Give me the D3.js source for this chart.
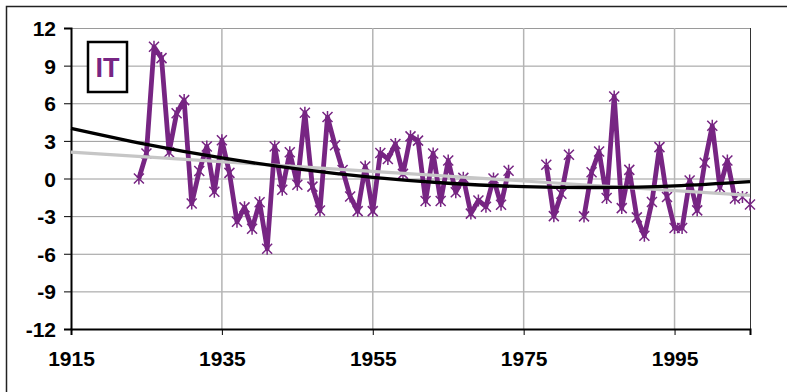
<!DOCTYPE html>
<html>
<head>
<meta charset="utf-8">
<script src="https://cdn.jsdelivr.net/npm/d3@7"></script>
<style>
  body { margin: 0; background: #fff; }
  svg { display: block; font-family: "Liberation Sans", Arial, sans-serif; }
</style>
</head>
<body>
<div id="chart"></div>
<script>
const width = 787, height = 392;
const margin = {top: 28, right: 37, bottom: 63, left: 71};

// series (null = no value)
const years = d3.range(1924, 2006);
const values = [
  0.0, 2.0, 10.5, 9.6, 2.1, 5.2, 6.25, -2.0, 0.6, 2.55,      // 1924-1933
  -1.05, 3.05, 0.45, -3.45, -2.3, -4.0, -1.9, -5.6, 2.55, -0.9, // 1934-1943
  2.1, -0.5, 5.25, -0.65, -2.55, 4.9, 2.65, 0.68, -1.43, -2.6,  // 1944-1953
  0.95, -2.6, 2.04, 1.56, 2.75, 0.37, 3.36, 3.02, -1.8, 2.0,    // 1954-1963
  -1.8, 1.43, -1.09, 0.05, -2.8, -1.75, -2.25, 0.0, -2.1, 0.62, // 1964-1973
  null, null, null, null, 1.1, -3.0, -1.22, 1.9, null, -3.02,   // 1974-1983
  0.5, 2.15, -1.55, 6.54, -2.36, 0.69, -3.1, -4.57, -1.88, 2.5, // 1984-1993
  -1.48, -3.95, -3.95, -0.16, -2.54, 1.25, 4.2, -0.7, 1.43, -1.6, // 1994-2003
  -1.48, -2.07                                                  // 2004-2005
];
// markers shown without a connecting line
const noLineYears = [2004, 2005];

// trend lines
const polyYears = [1915, 1925, 1935, 1945, 1955, 1965, 1975, 1985, 1995, 2005];
const polyValues = [4.0, 2.72, 1.64, 0.77, 0.09, -0.38, -0.65, -0.72, -0.59, -0.25];
const linYears = [1915, 2005];
const linValues = [2.1, -1.35];

const xTicks = [1915, 1935, 1955, 1975, 1995];
const yTicks = [-12, -9, -6, -3, 0, 3, 6, 9, 12];

const purple = "#772583";

const svg = d3.select("#chart").append("svg")
    .attr("width", width)
    .attr("height", height);

// outer frame (runs off the right/bottom edge)
svg.append("rect")
    .attr("x", 6.5).attr("y", 6.5)
    .attr("width", 800).attr("height", 400)
    .attr("fill", "none")
    .attr("stroke", "#222")
    .attr("stroke-width", 1.5);

const x = d3.scaleLinear().domain([1915, 2005]).range([margin.left, width - margin.right]);
const y = d3.scaleLinear().domain([-12, 12]).range([height - margin.bottom, margin.top]);

// gridlines
svg.append("g").selectAll("line")
  .data(yTicks)
  .enter().append("line")
    .attr("x1", margin.left).attr("x2", width - margin.right)
    .attr("y1", d => y(d) + 0.5).attr("y2", d => y(d) + 0.5)
    .attr("stroke", "#9a9a9a").attr("stroke-width", 1);

svg.append("g").selectAll("line")
  .data(xTicks.slice(1))
  .enter().append("line")
    .attr("x1", d => x(d)).attr("x2", d => x(d))
    .attr("y1", margin.top).attr("y2", height - margin.bottom)
    .attr("stroke", "#b4b4b4").attr("stroke-width", 1.5);

// right border of plot
svg.append("line")
    .attr("x1", width - margin.right + 0.5).attr("x2", width - margin.right + 0.5)
    .attr("y1", margin.top).attr("y2", height - margin.bottom)
    .attr("stroke", "#333");

// axes
const yAxis = d3.axisLeft(y).tickValues(yTicks).tickSize(7).tickPadding(8).tickFormat(d => String(d));
const gy = svg.append("g")
    .attr("transform", "translate(" + margin.left + ",0)")
    .call(yAxis);

const xAxis = d3.axisBottom(x).tickValues(xTicks).tickSize(6).tickPadding(16).tickFormat(d => String(d));
const gx = svg.append("g")
    .attr("transform", "translate(0," + (height - margin.bottom) + ")")
    .call(xAxis);

[gx, gy].forEach(g => {
  g.attr("font-size", 21)
   .attr("font-weight", "bold")
   .attr("font-family", "'Liberation Sans', Arial, sans-serif");
  g.select(".domain").attr("stroke", "#000").attr("stroke-width", 2);
  g.selectAll(".tick line").attr("stroke", "#000");
  g.selectAll(".tick text").attr("fill", "#000");
});
gy.selectAll(".tick text").attr("dy", "0.36em");

// data series
const pts = years.map((yr, i) => ({year: yr, value: values[i]}));

const line = d3.line()
    .defined(d => d.value !== null && noLineYears.indexOf(d.year) < 0)
    .x(d => x(d.year))
    .y(d => y(d.value));

svg.append("path")
    .datum(pts)
    .attr("fill", "none")
    .attr("stroke", purple)
    .attr("stroke-width", 4.8)
    .attr("stroke-linejoin", "round")
    .attr("d", line);

// asterisk markers
const m = 5;
svg.append("g").selectAll("path")
  .data(pts.filter(d => d.value !== null))
  .enter().append("path")
    .attr("transform", d => "translate(" + x(d.year) + "," + y(d.value) + ")")
    .attr("d", "M" + (-m) + "," + (-m) + "L" + m + "," + m +
               "M" + m + "," + (-m) + "L" + (-m) + "," + m +
               "M0," + (-m - 1) + "L0," + (m + 1))
    .attr("stroke", purple)
    .attr("stroke-width", 1.5)
    .attr("fill", "none");

// linear trend (grey)
svg.append("path")
    .datum(linYears.map((yr, i) => [yr, linValues[i]]))
    .attr("fill", "none")
    .attr("stroke", "#c6c6c6")
    .attr("stroke-width", 3.2)
    .attr("d", d3.line().x(d => x(d[0])).y(d => y(d[1])));

// polynomial trend (black)
svg.append("path")
    .datum(polyYears.map((yr, i) => [yr, polyValues[i]]))
    .attr("fill", "none")
    .attr("stroke", "#000")
    .attr("stroke-width", 3.4)
    .attr("d", d3.line().curve(d3.curveNatural).x(d => x(d[0])).y(d => y(d[1])));

// country label
svg.append("rect")
    .attr("x", 88).attr("y", 42)
    .attr("width", 39).attr("height", 50)
    .attr("fill", "#fff")
    .attr("stroke", "#000")
    .attr("stroke-width", 2.5);

svg.append("text")
    .attr("x", 107.5).attr("y", 77)
    .attr("text-anchor", "middle")
    .attr("font-size", 27)
    .attr("font-weight", "bold")
    .attr("fill", purple)
    .text("IT");
</script>
</body>
</html>
